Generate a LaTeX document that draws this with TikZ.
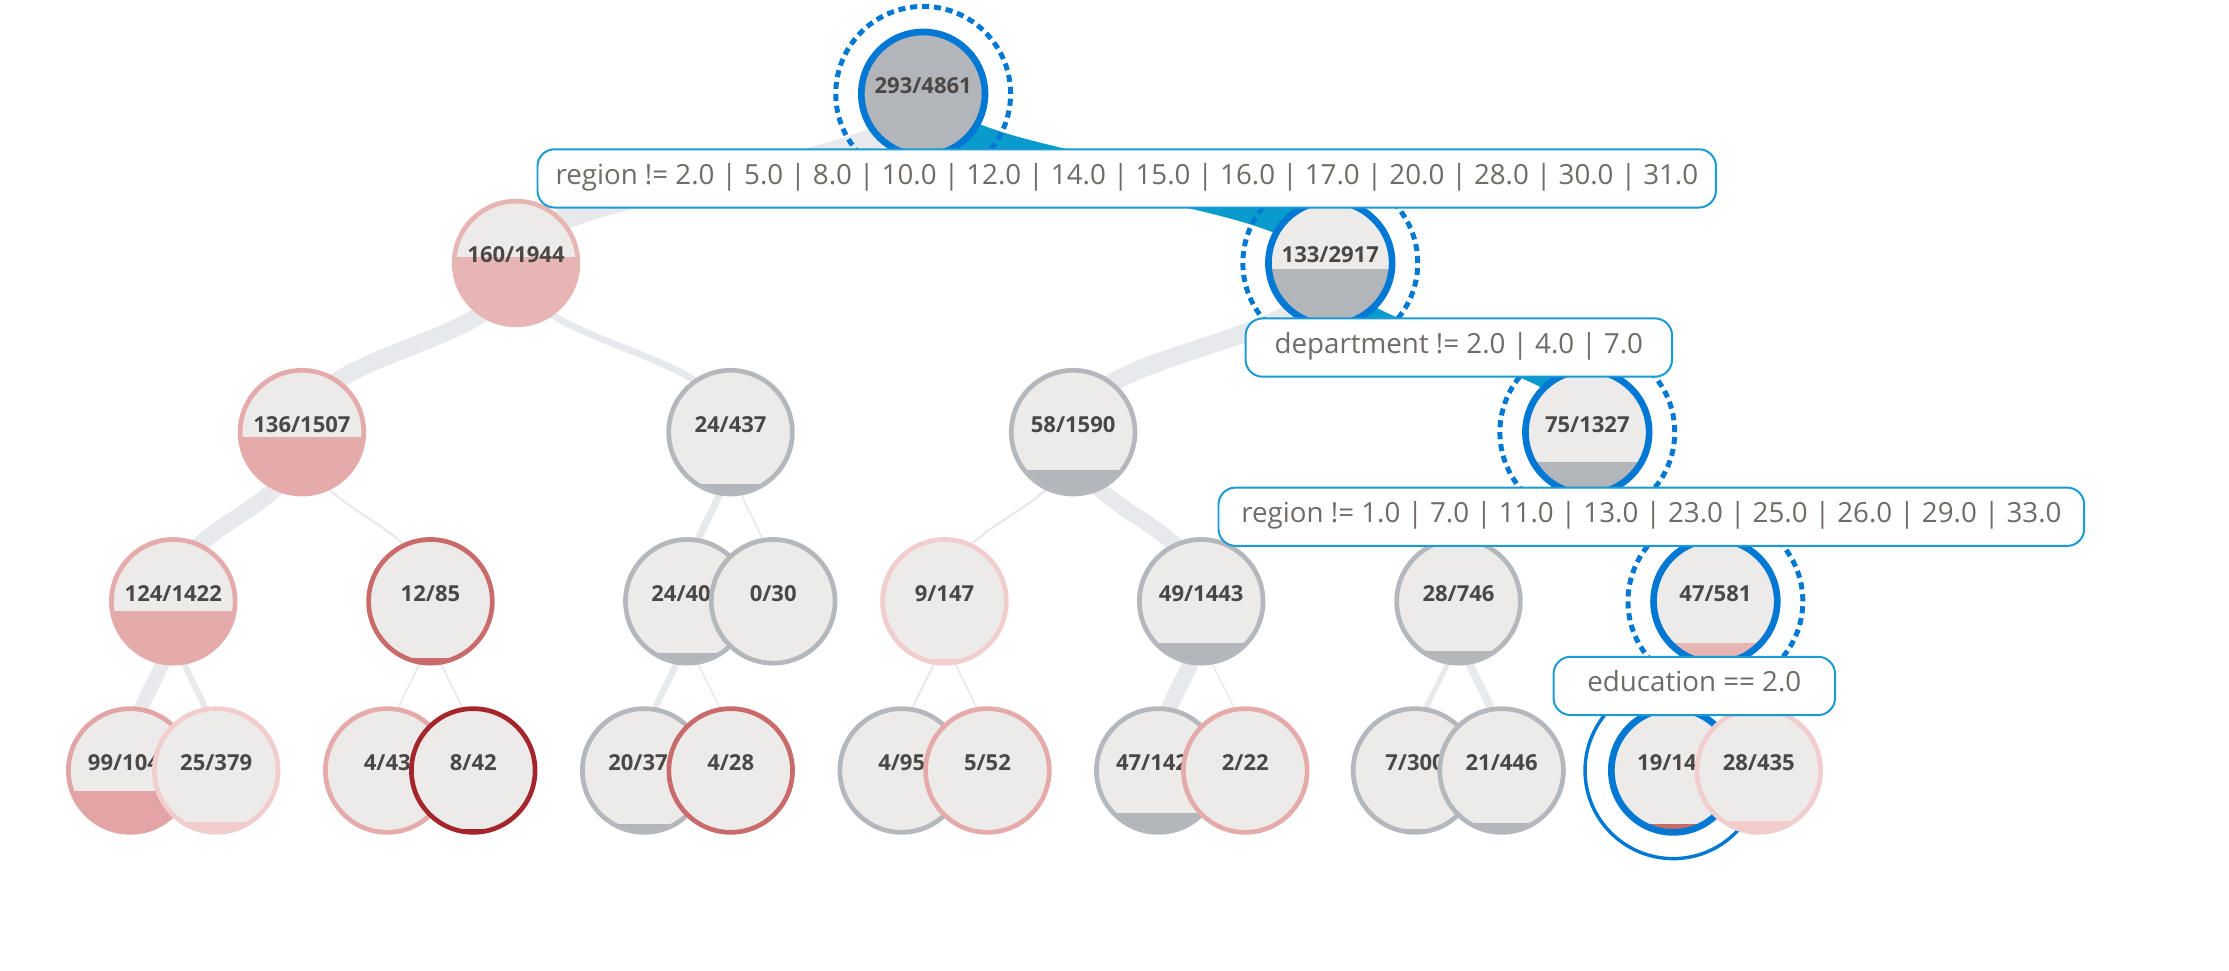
\documentclass[tikz,border=0pt]{standalone}
\usepackage{fontspec}
\setmainfont{Open Sans}
\usetikzlibrary{calc}
\pgfdeclarelayer{bg}
\pgfsetlayers{bg,main}
\definecolor{nodebg}{HTML}{EDEBE9}
\definecolor{grayfill}{HTML}{B2B5BA}
\definecolor{graystroke}{HTML}{B4B7BC}
\definecolor{pinkA}{HTML}{E8B5B5}
\definecolor{pinkB}{HTML}{E5AAAA}
\definecolor{pinkC}{HTML}{E3A4A6}
\definecolor{pinkL}{HTML}{F1CDCD}
\definecolor{redM}{HTML}{C96B6B}
\definecolor{redD}{HTML}{A4262C}
\definecolor{selblue}{HTML}{0078D4}
\definecolor{edgeblue}{HTML}{0A9BCD}
\definecolor{edgegray}{HTML}{E8E9EC}
\definecolor{labelblue}{HTML}{1A9BD4}
\definecolor{nodetext}{HTML}{4A4745}
\definecolor{labeltext}{HTML}{6F6B68}
\tikzset{
  tn/.style={circle, minimum size=87pt, inner sep=0pt, fill=nodebg, line width=3.3pt,
    text=nodetext, font=\fontsize{15.5}{16}\selectfont\bfseries, text height=10.8pt, text depth=10.8pt},
  sel/.style={draw=selblue, line width=4.7pt},
  lev/.style 2 args={path picture={\fill[#1] ([yshift=#2pt]path picture bounding box.south west) rectangle (path picture bounding box.south east);}},
  ring/.style={draw=selblue, line width=3.5pt, dash pattern=on 5pt off 3.4pt},
  outring/.style={draw=selblue, line width=2.4pt},
  lbl/.style={draw=labelblue, line width=1.4pt, fill=white, rounded corners=12pt, minimum height=41pt,
    inner sep=0pt, text=labeltext, font=\fontsize{19.5}{20}\selectfont, text height=14pt, text depth=5.8pt},
  gl/.style={draw=edgegray},
  bl/.style={draw=edgeblue},
}
\newcommand{\treelink}[5]{\draw[#5, line width=#4pt] (#1.center) .. controls (#1.center |- #3) and (#2.center |- #3) .. (#2.center);}
\begin{document}
\begin{tikzpicture}[x=1pt,y=-1pt]
\useasboundingbox (0,0) rectangle (1568,683);
\coordinate (m01) at (0,125.5);
\coordinate (m12) at (0,244.5);
\coordinate (m23) at (0,363.5);
\coordinate (m34) at (0,482.5);
% level 0
\node[tn, sel, fill=grayfill] (root) at (649.4,66) {293/4861};
\draw[ring] (root.center) circle[radius=61.5pt];
% level 1
\node[tn, draw=pinkA, lev={pinkA}{47.5}] (n160) at (363,185) {160/1944};
\node[tn, sel, lev={grayfill}{39.5}] (n133) at (935.8,185) {133/2917};
\draw[ring] (n133.center) circle[radius=61.5pt];
% level 2
\node[tn, draw=pinkB, lev={pinkB}{40.4}] (n136) at (212.4,304) {136/1507};
\node[tn, draw=graystroke, lev={grayfill}{7.1}] (n437) at (513.9,304) {24/437};
\node[tn, draw=graystroke, lev={grayfill}{17.2}] (n1590) at (754.9,304) {58/1590};
\node[tn, sel, lev={grayfill}{22.3}] (n1327) at (1116.6,304) {75/1327};
\draw[ring] (n1327.center) circle[radius=61.5pt];
% level 3
\node[tn, draw=pinkB, lev={pinkB}{36.8}] (n1422) at (121.9,423) {124/1422};
\node[tn, draw=redM, lev={redM}{3.6}] (n85) at (302.8,423) {12/85};
\node[tn, draw=graystroke, lev={grayfill}{7.1}] (n407) at (483.5,423) {24/407};
\node[tn, draw=graystroke] (n30) at (543.9,423) {0/30};
\node[tn, draw=pinkL, lev={pinkL}{2.7}] (n147) at (664.4,423) {9/147};
\node[tn, draw=graystroke, lev={grayfill}{14.5}] (n1443) at (845,423) {49/1443};
\node[tn, draw=graystroke, lev={grayfill}{8.3}] (n746) at (1026,423) {28/746};
\node[tn, sel, lev={pinkA}{13.9}] (n581) at (1206.7,423) {47/581};
\draw[ring] (n581.center) circle[radius=61.5pt];
% level 4
\node[tn, draw=pinkC, lev={pinkC}{29.4}] (n1043) at (91.6,542) {99/1043};
\node[tn, draw=pinkL, lev={pinkL}{7.4}] (n379) at (152.1,542) {25/379};
\node[tn, draw=pinkB, lev={pinkB}{1.2}] (n43) at (272.4,542) {4/43};
\node[tn, draw=redD, lev={redD}{2.4}] (n42) at (332.9,542) {8/42};
\node[tn, draw=graystroke, lev={grayfill}{5.9}] (n379b) at (453.2,542) {20/379};
\node[tn, draw=redM, lev={redM}{1.2}] (n28) at (514,542) {4/28};
\node[tn, draw=graystroke, lev={grayfill}{1.2}] (n95) at (634.3,542) {4/95};
\node[tn, draw=pinkB, lev={pinkB}{1.5}] (n52) at (694.6,542) {5/52};
\node[tn, draw=graystroke, lev={grayfill}{13.9}] (n1421) at (814.8,542) {47/1421};
\node[tn, draw=pinkB, lev={pinkB}{0.6}] (n22) at (876,542) {2/22};
\node[tn, draw=graystroke, lev={grayfill}{2.1}] (n300) at (995.4,542) {7/300};
\node[tn, draw=graystroke, lev={grayfill}{6.3}] (n446) at (1056.3,542) {21/446};
\node[tn, sel, lev={redM}{5.6}] (n146) at (1177,542) {19/146};
\draw[outring] (n146.center) circle[radius=62pt];
\node[tn, draw=pinkL, lev={pinkL}{8.3}] (n435) at (1237.2,542) {28/435};
% links
\begin{pgfonlayer}{bg}
\fill[white] (0,0) rectangle (1568,683);
\treelink{root}{n160}{m01}{15.5}{gl}
\treelink{root}{n133}{m01}{22.8}{bl}
\treelink{n160}{n136}{m12}{12.2}{gl}
\treelink{n160}{n437}{m12}{4.8}{gl}
\treelink{n133}{n1590}{m12}{12.8}{gl}
\treelink{n133}{n1327}{m12}{10.85}{bl}
\treelink{n136}{n1422}{m23}{11.6}{gl}
\treelink{n136}{n85}{m23}{1.5}{gl}
\treelink{n437}{n407}{m23}{5.0}{gl}
\treelink{n437}{n30}{m23}{1.1}{gl}
\treelink{n1590}{n147}{m23}{1.6}{gl}
\treelink{n1590}{n1443}{m23}{11.2}{gl}
\treelink{n1327}{n746}{m23}{7.0}{gl}
\treelink{n1327}{n581}{m23}{5.5}{bl}
\treelink{n1422}{n1043}{m34}{10.0}{gl}
\treelink{n1422}{n379}{m34}{4.2}{gl}
\treelink{n85}{n43}{m34}{1.2}{gl}
\treelink{n85}{n42}{m34}{1.2}{gl}
\treelink{n407}{n379b}{m34}{4.5}{gl}
\treelink{n407}{n28}{m34}{1.1}{gl}
\treelink{n147}{n95}{m34}{1.4}{gl}
\treelink{n147}{n52}{m34}{1.2}{gl}
\treelink{n1443}{n1421}{m34}{11.4}{gl}
\treelink{n1443}{n22}{m34}{1.1}{gl}
\treelink{n746}{n300}{m34}{3.6}{gl}
\treelink{n746}{n446}{m34}{5.6}{gl}
\treelink{n581}{n146}{m34}{2.0}{bl}
\treelink{n581}{n435}{m34}{4.2}{gl}
\end{pgfonlayer}
% split labels
\node[lbl, minimum width=829pt] (l1) at ($(root)!.5!(n133)$) {region != 2.0 | 5.0 | 8.0 | 10.0 | 12.0 | 14.0 | 15.0 | 16.0 | 17.0 | 20.0 | 28.0 | 30.0 | 31.0};
\node[lbl, minimum width=300pt] (l2) at ($(n133)!.5!(n1327)$) {department != 2.0 | 4.0 | 7.0};
\node[lbl, minimum width=609pt] (l3) at ($(n1327)!.5!(n581)$) {region != 1.0 | 7.0 | 11.0 | 13.0 | 23.0 | 25.0 | 26.0 | 29.0 | 33.0};
\node[lbl, minimum width=198pt] (l4) at ($(n581)!.5!(n146)$) {education == 2.0};
\end{tikzpicture}
\end{document}
